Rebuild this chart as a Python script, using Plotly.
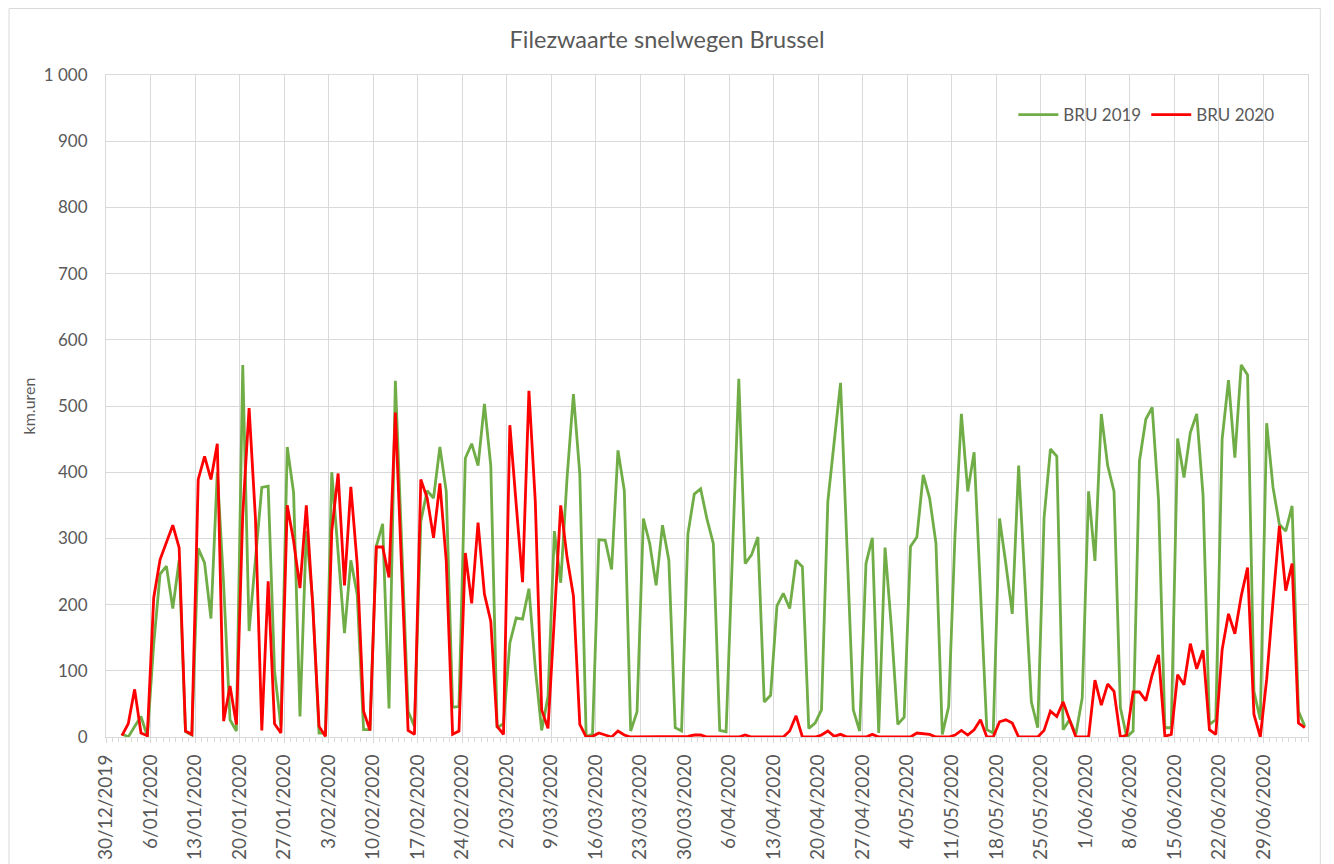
import pandas as pd
import plotly.graph_objects as go

# daily values, 1/01/2020 .. 5/07/2020
bru_2019 = [
    5, 0, 16, 31, 1, 140, 246, 258, 194, 267, 8, 3, 285, 263, 179, 400, 230, 26, 9, 562,
    160, 270, 377, 379, 100, 16, 438, 369, 31, 311, 205, 6, 6, 400, 280, 157, 267, 215, 11, 11,
    288, 322, 43, 538, 290, 39, 16, 326, 372, 361, 438, 371, 45, 46, 421, 443, 410, 503, 410, 14,
    20, 142, 180, 178, 224, 104, 10, 61, 311, 233, 392, 518, 397, 1, 4, 298, 297, 253, 433, 372,
    9, 38, 330, 292, 229, 320, 267, 14, 9, 307, 367, 375, 329, 292, 10, 8, 275, 541, 262, 275,
    302, 53, 63, 198, 217, 194, 267, 257, 13, 21, 41, 356, 446, 535, 290, 41, 9, 262, 301, 6,
    286, 165, 19, 30, 288, 302, 396, 361, 293, 4, 46, 306, 488, 371, 430, 230, 11, 6, 330, 261,
    186, 410, 230, 53, 14, 331, 435, 424, 11, 26, 4, 59, 371, 266, 488, 410, 371, 44, 0, 9,
    417, 480, 498, 358, 14, 14, 451, 392, 460, 488, 365, 19, 26, 450, 539, 422, 562, 547, 69, 26,
    474, 377, 321, 311, 349, 39, 16,
]
bru_2020 = [
    2, 20, 72, 6, 2, 210, 268, 293, 320, 286, 9, 4, 389, 424, 389, 443, 24, 77, 19, 336,
    497, 330, 10, 235, 20, 6, 350, 296, 225, 350, 200, 16, 1, 311, 398, 229, 378, 261, 39, 10,
    287, 287, 241, 490, 250, 10, 4, 389, 361, 301, 383, 266, 4, 9, 278, 202, 324, 216, 175, 16,
    4, 471, 351, 234, 523, 356, 41, 13, 180, 350, 271, 213, 19, 0, 1, 6, 3, 0, 9, 3,
    0, 0, 0, 0, 0, 0, 0, 0, 0, 1, 3, 3, 0, 0, 0, 0, 0, 0, 3, 0,
    0, 0, 0, 0, 0, 9, 32, 0, 0, 0, 3, 9, 1, 4, 0, 0, 0, 0, 4, 0,
    0, 0, 0, 0, 0, 6, 5, 4, 0, 0, 0, 3, 10, 3, 11, 26, 0, 0, 23, 26,
    21, 0, 0, 0, 0, 10, 39, 31, 53, 26, 0, 0, 0, 86, 48, 80, 69, 0, 3, 68,
    68, 55, 94, 124, 1, 4, 94, 79, 141, 103, 131, 11, 4, 132, 186, 156, 213, 256, 34, 0,
    87, 205, 319, 221, 262, 21, 14,
]
days = pd.date_range("2020-01-01 12:00", periods=len(bru_2020), freq="D")
week_ticks = pd.date_range("2019-12-30", "2020-06-29", freq="7D")

GRID = "#d9d9d9"
TXT = "#595959"
FONT = "Lato"

fig = go.Figure()
fig.add_trace(go.Scatter(x=days, y=bru_2019, mode="lines", name="BRU 2019",
                         line=dict(color="#70ad47", width=2.8)))
fig.add_trace(go.Scatter(x=days, y=bru_2020, mode="lines", name="BRU 2020",
                         line=dict(color="#ff0000", width=2.8)))

# page has an 8px body margin, so the figure sits at (8, 8)
W, H = 1318, 856
ML, MT, MR, MB = 97.5, 67, 18.3, 127
pw, ph = W - ML - MR, H - MT - MB

fig.update_layout(
    width=W, height=H,
    margin=dict(l=ML, r=MR, t=MT, b=MB, autoexpand=False),
    plot_bgcolor="white", paper_bgcolor="white",
    font=dict(family=FONT, color=TXT, size=17),
    separators=", ",
    title=dict(text="Filezwaarte snelwegen Brussel", x=0.5, xanchor="center",
               y=1 - 32 / H, yanchor="middle", font=dict(size=23.5, color=TXT)),
    legend=dict(orientation="h", x=(1013 - 105.5) / pw, y=(737 - 115) / ph,
                xanchor="left", yanchor="middle",
                bgcolor="rgba(0,0,0,0)", font=dict(size=17, color=TXT),
                itemwidth=40, tracegroupgap=0),
    showlegend=True,
)
fig.update_xaxes(
    type="date", range=["2019-12-30", "2020-07-06"], automargin=False,
    tickvals=week_ticks, tickformat="%-d/%m/%Y", tickangle=-90,
    showgrid=True, gridcolor=GRID, gridwidth=1,
    showline=True, linecolor=GRID, mirror=True,
    ticks="outside", ticklen=5, tickcolor=GRID, ticklabelstandoff=4,
    minor=dict(dtick=86400000, ticks="outside", ticklen=4, tickcolor=GRID, showgrid=False),
    tickfont=dict(size=19, color=TXT),
)
fig.update_yaxes(
    range=[0, 1000], dtick=100, separatethousands=True, automargin=False,
    showgrid=True, gridcolor=GRID, gridwidth=1, zeroline=False,
    showline=True, linecolor=GRID, mirror=True,
    ticklabelstandoff=14,
    title=dict(text="km.uren", font=dict(size=16, color=TXT), standoff=4),
    tickfont=dict(size=17, color=TXT),
)
# chart area border
fig.add_shape(type="rect", xref="paper", yref="paper",
              x0=-(ML - 0.5) / pw, x1=(1320 - 105.5) / pw,
              y0=-(MB + 20) / ph, y1=1 + (MT - 0.5) / ph,
              line=dict(color=GRID, width=1), fillcolor="rgba(0,0,0,0)", layer="below")

fig.write_html("out.html")
